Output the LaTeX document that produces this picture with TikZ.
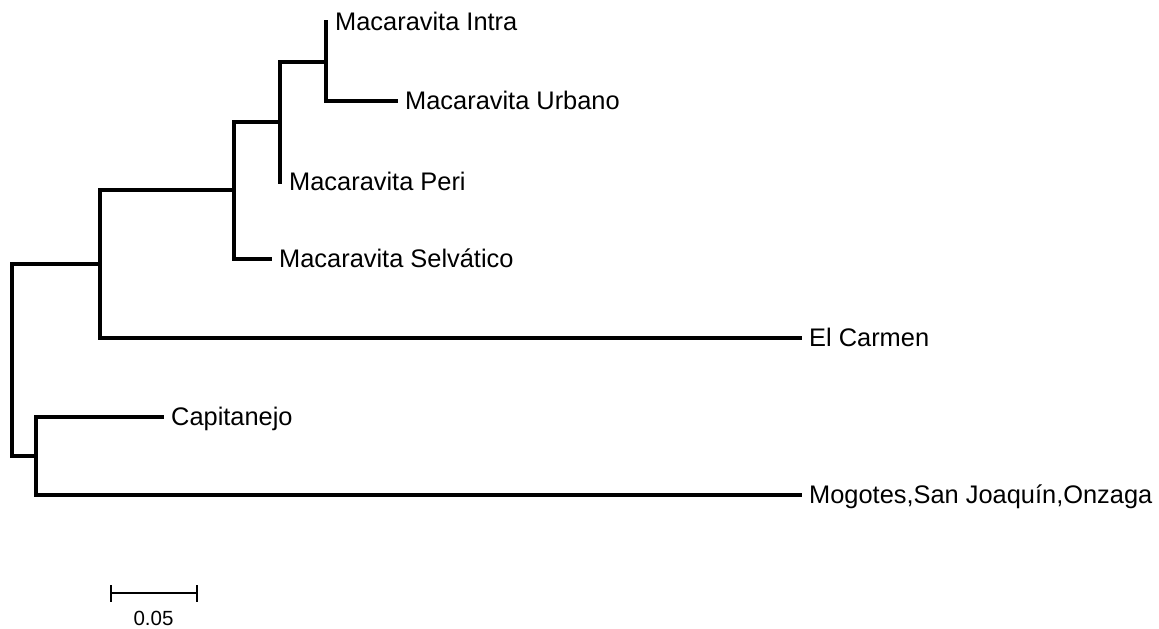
\documentclass[tikz,border=0pt]{standalone}
\usepackage{fontspec}
\setmainfont{Liberation Sans}
\begin{document}
\begin{tikzpicture}[x=1pt,y=-1pt,
  branch/.style={line width=3.5pt,line cap=rect,line join=miter},
  taxon/.style={anchor=base west,inner sep=0pt,font=\fontsize{25.4}{25.4}\selectfont},
  scalebar/.style={line width=2pt},
  scalelabel/.style={anchor=base,inner sep=0pt,font=\fontsize{20.5}{20.5}\selectfont}]
\useasboundingbox (0,0) rectangle (1159,629);

% internal nodes
\coordinate (rootU) at (12,264);
\coordinate (rootL) at (12,456);
\coordinate (nA) at (100,264);
\coordinate (nAu) at (100,190);
\coordinate (nAl) at (100,338);
\coordinate (nB) at (234,190);
\coordinate (nBu) at (234,122);
\coordinate (nBl) at (234,259);
\coordinate (nC) at (280,122);
\coordinate (nCu) at (280,62);
\coordinate (nCl) at (280,182);
\coordinate (nD) at (326,62);
\coordinate (nDu) at (326,22);
\coordinate (nDl) at (326,101);
\coordinate (nE) at (36,456);
\coordinate (nEu) at (36,417);
\coordinate (nEl) at (36,495);

% leaf tips
\coordinate (tIntra) at (326,22);
\coordinate (tUrbano) at (396,101);
\coordinate (tPeri) at (280,182);
\coordinate (tSelv) at (270,259);
\coordinate (tCarmen) at (800,338);
\coordinate (tCapit) at (162,417);
\coordinate (tMogo) at (800,495);

% tree
\draw[branch] (rootU) -- (rootL);
\draw[branch] (rootU) -- (nA);
\draw[branch] (rootL) -- (nE);
\draw[branch] (nAu) -- (nAl);
\draw[branch] (nAu) -- (nB);
\draw[branch] (nAl) -- (tCarmen);
\draw[branch] (nBu) -- (nBl);
\draw[branch] (nBu) -- (nC);
\draw[branch] (nBl) -- (tSelv);
\draw[branch] (nCu) -- (nCl);
\draw[branch] (nCu) -- (nD);
\draw[branch] (nDu) -- (nDl);
\draw[branch] (nDl) -- (tUrbano);
\draw[branch] (nEu) -- (nEl);
\draw[branch] (nEu) -- (tCapit);
\draw[branch] (nEl) -- (tMogo);

% taxon labels, baseline set below the branch so the capitals sit centred on it
\tikzset{labelpos/.style={xshift=9pt,yshift=-8.7pt}}
\node[taxon] (lIntra) at ([labelpos]tIntra) {Macaravita Intra};
\node[taxon] (lUrbano) at ([labelpos]tUrbano) {Macaravita Urbano};
\node[taxon] (lPeri) at ([labelpos]tPeri) {Macaravita Peri};
\node[taxon] (lSelv) at ([labelpos]tSelv) {Macaravita Selvático};
\node[taxon] (lCarmen) at ([labelpos]tCarmen) {El Carmen};
\node[taxon] (lCapit) at ([labelpos]tCapit) {Capitanejo};
\node[taxon] (lMogo) at ([labelpos]tMogo) {Mogotes,San Joaquín,Onzaga};

% scale bar
\coordinate (sL) at (111,593);
\coordinate (sR) at (197,593);
\draw[scalebar] (sL) -- (sR);
\draw[scalebar] ([yshift=8pt]sL) -- ([yshift=-9pt]sL);
\draw[scalebar] ([yshift=8pt]sR) -- ([yshift=-9pt]sR);
\node[scalelabel] (lScale) at (153.5,625) {0.05};
\end{tikzpicture}
\end{document}
